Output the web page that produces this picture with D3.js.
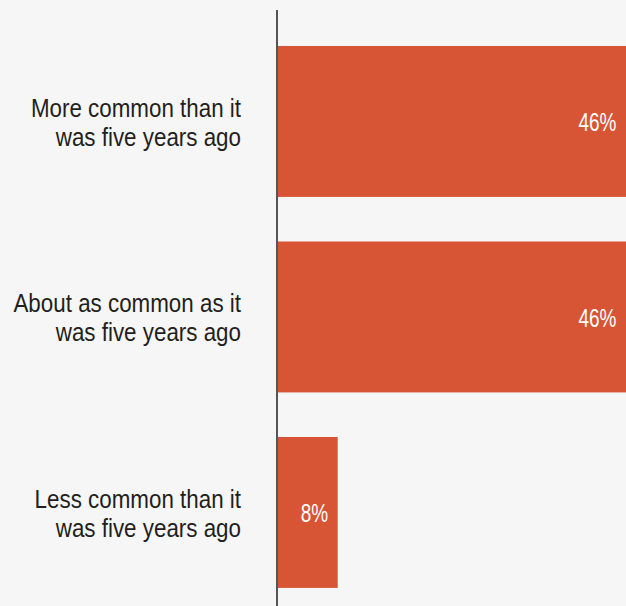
<!DOCTYPE html>
<meta charset="utf-8">
<html>
<head>
<title>Bar chart</title>
<style>
    *{ margin:0; padding:0;}
    body{ background:#f6f6f6; overflow:hidden;}
    svg text{ font-family:'Liberation Sans',Arial,sans-serif; }
</style>
<script src="https://cdn.jsdelivr.net/npm/d3@7"></script>
</head>
<body>
<div id="chart"></div>
<script>
    var categories = [
        ["More common than it", "was five years ago"],
        ["About as common as it", "was five years ago"],
        ["Less common than it", "was five years ago"]
    ];
    var values = [46, 46, 8];
    var valueLabels = ["46%", "46%", "8%"];

    var width = 626, height = 606;
    var axisX = 277;

    var svg = d3.select("#chart").append("svg")
        .attr("width", width)
        .attr("height", height);

    svg.append("rect").attr("width", width).attr("height", height).attr("fill", "#f6f6f6");

    var x = d3.scaleLinear().domain([0, 46]).range([axisX, 626]);
    var y = d3.scaleBand().domain(d3.range(values.length))
        .range([23.7, 610.2]).paddingInner(0.228).paddingOuter(0.114);

    svg.selectAll("rect.bar")
        .data(values)
        .enter().append("rect")
        .attr("class", "bar")
        .attr("x", x(0))
        .attr("y", function (d, i) { return y(i); })
        .attr("width", function (d) { return x(d) - x(0); })
        .attr("height", y.bandwidth())
        .attr("fill", "#d75535");

    // value labels (condensed look)
    svg.selectAll("text.val")
        .data(values)
        .enter().append("text")
        .attr("class", "val")
        .attr("transform", function (d, i) {
            return "translate(" + (x(d) - 9.5) + "," + (y(i) + y.bandwidth() / 2 + 10) + ") scale(0.76,1)";
        })
        .attr("text-anchor", "end")
        .attr("fill", "#ffffff")
        .style("font-size", "25px")
        .text(function (d, i) { return valueLabels[i]; });

    // category labels
    var cat = svg.selectAll("text.cat")
        .data(categories)
        .enter().append("text")
        .attr("class", "cat")
        .attr("transform", function (d, i) {
            return "translate(241," + (y(i) + y.bandwidth() / 2) + ") scale(0.895,1)";
        })
        .attr("text-anchor", "end")
        .attr("fill", "#231f20")
        .style("font-size", "25px");
    cat.each(function (d) {
        var t = d3.select(this);
        d.forEach(function (line, j) {
            t.append("tspan")
                .attr("x", 0)
                .attr("y", j === 0 ? -4.5 : 24.5)
                .text(line);
        });
    });

    svg.append("line")
        .attr("x1", axisX).attr("x2", axisX)
        .attr("y1", 10).attr("y2", height)
        .attr("stroke", "#555")
        .attr("stroke-width", 2);
</script>
</body>
</html>
